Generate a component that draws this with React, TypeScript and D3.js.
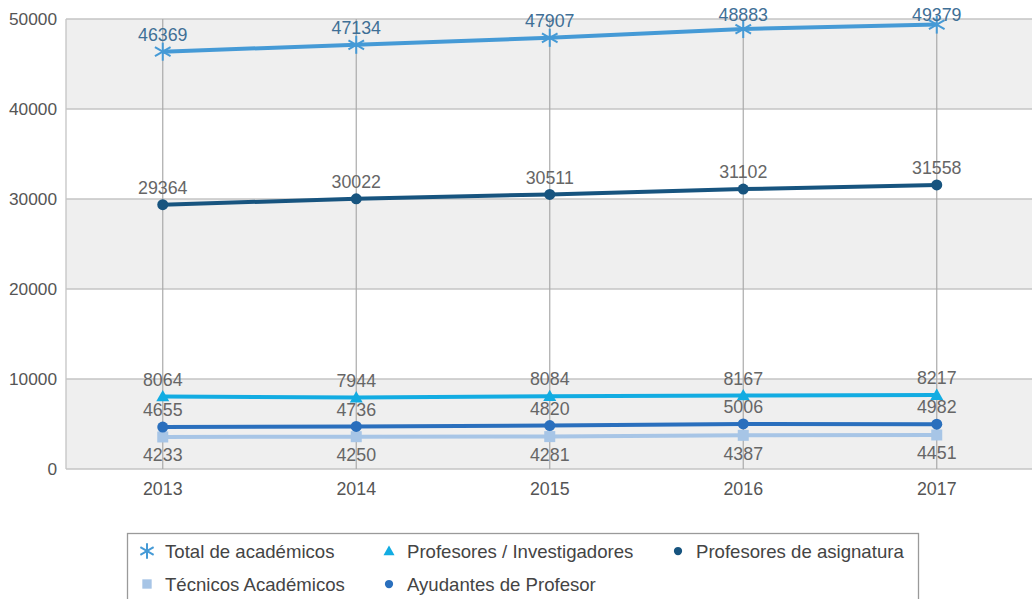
import React from "react";
import * as d3 from "d3";

const years = ["2013", "2014", "2015", "2016", "2017"];
const totalAcademicos = [46369, 47134, 47907, 48883, 49379];
const profAsignatura = [29364, 30022, 30511, 31102, 31558];
const profInvestigadores = [8064, 7944, 8084, 8167, 8217];
const ayudantes = [4655, 4736, 4820, 5006, 4982];
// plotted positions of the Técnicos line (as drawn) and the printed labels
const tecnicos = [3560, 3590, 3600, 3740, 3780];
const tecnicosLabels = [4233, 4250, 4281, 4387, 4451];
const yTicks = [0, 10000, 20000, 30000, 40000, 50000];

const W = 1032;
const H = 599;
const M = { left: 66, top: 19, bottom: 469 };
const STEP = 193.5;
const FONT = "'Liberation Sans', Arial, sans-serif";

type Series = {
  name: string;
  values: number[];
  labels: number[];
  color: string;
  labelColor: string;
  marker: "asterisk" | "circle" | "triangle" | "square";
  labelPos: "above" | "below";
  width: number;
};

const series: Series[] = [
  { name: "Técnicos Académicos", values: tecnicos, labels: tecnicosLabels, color: "#a7c5e6", labelColor: "#666", marker: "square", labelPos: "below", width: 4 },
  { name: "Ayudantes de Profesor", values: ayudantes, labels: ayudantes, color: "#2a6fbd", labelColor: "#666", marker: "circle", labelPos: "above", width: 4 },
  { name: "Profesores / Investigadores", values: profInvestigadores, labels: profInvestigadores, color: "#12ace2", labelColor: "#666", marker: "triangle", labelPos: "above", width: 4 },
  { name: "Profesores de asignatura", values: profAsignatura, labels: profAsignatura, color: "#17547f", labelColor: "#666", marker: "circle", labelPos: "above", width: 4 },
  { name: "Total de académicos", values: totalAcademicos, labels: totalAcademicos, color: "#459ad6", labelColor: "#3f6f96", marker: "asterisk", labelPos: "above", width: 4 },
];

function Marker({ type, x, y, color, scale = 1 }: { type: string; x: number; y: number; color: string; scale?: number }) {
  if (type === "circle") return <circle cx={x} cy={y} r={5.5 * scale} fill={color} />;
  if (type === "square") {
    const s = 11 * scale;
    return <rect x={x - s / 2} y={y - s / 2} width={s} height={s} fill={color} />;
  }
  if (type === "triangle") {
    const s = 6.5 * scale;
    return <path d={`M${x},${y - s}L${x + s},${y + s * 0.75}L${x - s},${y + s * 0.75}Z`} fill={color} />;
  }
  const r = 9 * scale;
  const lines = [0, 60, 120].map((a) => {
    const rad = (a * Math.PI) / 180 + Math.PI / 2;
    return (
      <line key={a} x1={x - r * Math.cos(rad)} y1={y - r * Math.sin(rad)} x2={x + r * Math.cos(rad)} y2={y + r * Math.sin(rad)} stroke={color} strokeWidth={2} />
    );
  });
  return <g>{lines}</g>;
}

export default function App() {
  const x = d3.scaleBand<string>().domain(years).range([M.left, M.left + STEP * years.length]);
  const y = d3.scaleLinear().domain([0, 50000]).range([M.bottom, M.top]);
  const cx = (yr: string) => (x(yr) as number) + x.bandwidth() / 2;
  const right = M.left + STEP * years.length;

  const legend = [
    { name: "Total de académicos", marker: "asterisk", color: "#459ad6", lx: 147, ly: 551 },
    { name: "Profesores / Investigadores", marker: "triangle", color: "#12ace2", lx: 389, ly: 551 },
    { name: "Profesores de asignatura", marker: "circle", color: "#17547f", lx: 678, ly: 551 },
    { name: "Técnicos Académicos", marker: "square", color: "#a7c5e6", lx: 147, ly: 584 },
    { name: "Ayudantes de Profesor", marker: "circle", color: "#2a6fbd", lx: 389, ly: 584 },
  ];

  return (
    <svg width={W} height={H} style={{ position: "absolute", left: 0, top: 0, background: "#fff" }} fontFamily={FONT}>
      {yTicks.slice(0, -1).map((t, i) =>
        i % 2 === 0 ? (
          <rect key={"b" + t} x={M.left} y={y(t + 10000)} width={right - M.left} height={y(t) - y(t + 10000)} fill="#efefef" />
        ) : null
      )}
      {yTicks.map((t) => (
        <line key={"g" + t} x1={M.left} x2={right} y1={y(t)} y2={y(t)} stroke="#c4c4c4" strokeWidth={1.3} />
      ))}
      <line x1={M.left} x2={M.left} y1={M.top} y2={M.bottom} stroke="#c4c4c4" strokeWidth={1.3} />
      {years.map((yr) => (
        <line key={"v" + yr} x1={cx(yr)} x2={cx(yr)} y1={M.top} y2={M.bottom} stroke="#aaaaaa" strokeWidth={1.2} />
      ))}
      {yTicks.map((t) => (
        <text key={"yl" + t} x={57} y={y(t)} dy="0.35em" textAnchor="end" fontSize={17.3} fill="#555">
          {t}
        </text>
      ))}
      {years.map((yr) => (
        <text key={"xl" + yr} x={cx(yr)} y={489} dy="0.35em" textAnchor="middle" fontSize={17.8} fill="#555">
          {yr}
        </text>
      ))}
      {series.map((s) => {
        const line = d3
          .line<number>()
          .x((_, i) => cx(years[i]))
          .y((v) => y(v));
        return (
          <g key={s.name}>
            <path d={line(s.values) || ""} fill="none" stroke={s.color} strokeWidth={s.width} />
            {s.values.map((v, i) => (
              <Marker key={i} type={s.marker} x={cx(years[i])} y={y(v)} color={s.color} />
            ))}
          </g>
        );
      })}
      {series.map((s) =>
        s.values.map((v, i) => (
          <text
            key={s.name + "l" + i}
            x={cx(years[i])}
            y={s.labelPos === "above" ? Math.max(y(v) - 17, 15) : y(v) + 18}
            dy="0.35em"
            textAnchor="middle"
            fontSize={17.8}
            fill={s.labelColor}
          >
            {s.labels[i]}
          </text>
        ))
      )}
      <rect x={127.5} y={533.5} width={791} height={80} fill="#fff" stroke="#9a9a9a" strokeWidth={1.3} />
      {legend.map((l) => (
        <g key={l.name}>
          <Marker type={l.marker} x={l.lx} y={l.ly} color={l.color} scale={l.marker === "circle" ? 0.75 : 0.85} />
          <text x={l.lx + 18} y={l.ly} dy="0.35em" fontSize={18.6} fill="#444">
            {l.name}
          </text>
        </g>
      ))}
    </svg>
  );
}
